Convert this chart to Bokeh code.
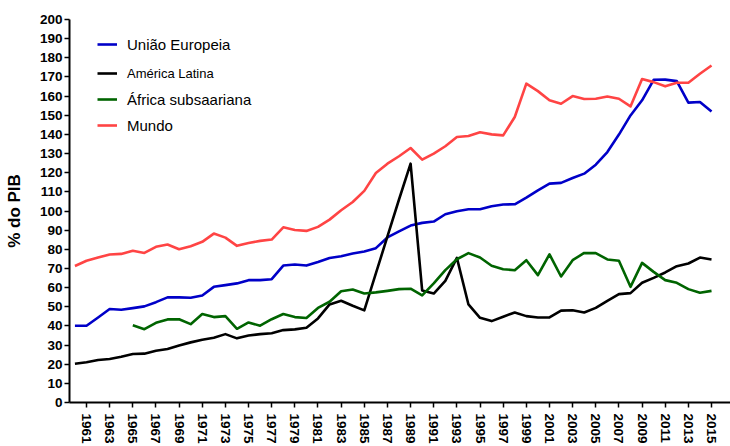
import numpy as np
from bokeh.plotting import figure
from bokeh.models import Range1d, FixedTicker, Legend, LegendItem, ColumnDataSource
from bokeh.embed import file_html
from bokeh.resources import INLINE

years = list(range(1960, 2016))
uniao_europeia = [40.1, 40.1, 44.4, 48.8, 48.4, 49.3, 50.2, 52.4, 54.9, 54.9,
                  54.7, 55.9, 60.4, 61.3, 62.2, 63.9, 63.9, 64.4, 71.5, 72.1,
                  71.5, 73.4, 75.5, 76.4, 77.8, 78.9, 80.6, 86.2, 89.4, 92.4,
                  93.8, 94.5, 98.3, 99.9, 100.9, 100.9, 102.5, 103.4, 103.5, 107.0,
                  110.8, 114.3, 114.7, 117.2, 119.5, 124.2, 130.8, 139.9, 149.9, 157.8,
                  168.5, 168.6, 167.8, 156.6, 156.9, 151.9]
america_latina = [20.2, 21.0, 22.2, 22.7, 23.9, 25.3, 25.5, 27.0, 27.9, 29.8,
                  31.4, 32.8, 33.8, 35.7, 33.5, 35.0, 35.7, 36.2, 37.8, 38.2,
                  39.0, 43.9, 51.2, 53.1, 50.5, 48.1, 67.4, 86.7, 106.0, 124.7,
                  58.5, 56.9, 63.5, 75.5, 51.2, 44.2, 42.5, 44.8, 47.0, 45.1,
                  44.4, 44.4, 48.0, 48.2, 47.0, 49.4, 53.1, 56.6, 57.1, 62.5,
                  65.1, 67.9, 71.2, 72.6, 75.7, 74.7]
africa_subsaariana = [None, None, None, None, None, 40.3, 38.3, 41.6, 43.4, 43.5,
                      40.9, 46.2, 44.6, 45.1, 38.5, 41.8, 40.1, 43.5, 46.2, 44.6,
                      44.1, 49.4, 52.6, 58.1, 59.0, 56.9, 57.5, 58.3, 59.2, 59.4,
                      55.9, 62.2, 69.1, 74.8, 78.0, 75.7, 71.4, 69.6, 69.1, 74.3,
                      66.5, 77.4, 65.8, 74.3, 78.1, 78.0, 74.7, 74.0, 60.4, 72.9,
                      68.2, 63.9, 62.5, 59.2, 57.3, 58.3]
mundo = [71.3, 74.0, 75.7, 77.3, 77.6, 79.2, 78.1, 81.3, 82.5, 80.0,
         81.6, 83.9, 88.2, 86.1, 81.8, 83.3, 84.4, 85.1, 91.5, 90.1,
         89.6, 91.7, 95.5, 100.4, 104.7, 110.5, 119.8, 124.7, 128.6, 132.9,
         126.8, 130.0, 133.8, 138.6, 139.2, 141.1, 140.0, 139.5, 149.1, 166.5,
         162.6, 157.8, 156.0, 160.0, 158.5, 158.6, 159.8, 158.6, 154.6, 168.9,
         167.3, 165.1, 167.0, 167.0, 171.7, 176.0]

x_ticks = list(range(1961, 2016, 2))
y_ticks = list(range(0, 201, 10))

series_names = ["União Europeia", "América Latina", "África subsaariana", "Mundo"]
series_colors = ["#0000C8", "#000000", "#006400", "#FF4444"]
legend_font_sizes = ["15px", "13px", "15px", "15px"]

FONT = "Liberation Sans"

p = figure(width=730, height=446, output_backend="svg", toolbar_location=None,
           x_range=Range1d(1959.53, 2016.64), y_range=Range1d(0, 200),
           min_border_left=69, min_border_right=0, min_border_top=19,
           min_border_bottom=44)
p.outline_line_color = None
p.xgrid.visible = False
p.ygrid.visible = False
p.background_fill_color = "white"
p.border_fill_color = "white"

for ax in (p.xaxis[0], p.yaxis[0]):
    ax.axis_line_width = 2
    ax.axis_line_color = "black"
    ax.major_tick_line_width = 1.5
    ax.major_tick_line_color = "black"
    ax.major_tick_out = 5
    ax.major_tick_in = 0
    ax.minor_tick_line_color = None
    ax.major_label_text_font = FONT
    ax.major_label_text_font_style = "bold"
    ax.major_label_text_color = "black"

p.xaxis[0].ticker = FixedTicker(ticks=x_ticks)
p.xaxis[0].major_label_orientation = "vertical"
p.xaxis[0].major_label_text_font_size = "13.5px"
p.xaxis[0].major_label_standoff = 6

p.yaxis[0].ticker = FixedTicker(ticks=y_ticks)
p.yaxis[0].major_label_text_font_size = "13.5px"
p.yaxis[0].major_label_standoff = 2
p.yaxis[0].axis_label = "% do PIB"
p.yaxis[0].axis_label_text_font = FONT
p.yaxis[0].axis_label_text_font_style = "bold"
p.yaxis[0].axis_label_text_font_size = "17px"
p.yaxis[0].axis_label_text_color = "black"
p.yaxis[0].axis_label_standoff = 13

all_series = [uniao_europeia, america_latina, africa_subsaariana, mundo]
renderers = []
for vals, color in zip(all_series, series_colors):
    ys = np.array([np.nan if v is None else v for v in vals], dtype=float)
    src = ColumnDataSource(dict(x=years, y=ys))
    r = p.line("x", "y", source=src, line_color=color, line_width=2.6,
               line_join="round")
    renderers.append(r)

# legends placed individually (px above the frame's bottom edge)
legend_y = [348, 319, 293, 267]
for name, r, fs, ly in zip(series_names, renderers, legend_font_sizes, legend_y):
    lg = Legend(items=[LegendItem(label=name, renderers=[r])],
                location=(28, ly),
                padding=0, margin=0, spacing=0,
                glyph_width=20, glyph_height=20, label_height=20,
                label_standoff=10, border_line_color=None,
                background_fill_alpha=0,
                label_text_font=FONT, label_text_font_size=fs,
                label_text_color="black")
    p.add_layout(lg, "center")

open("out.html", "w").write(file_html(p, INLINE))
